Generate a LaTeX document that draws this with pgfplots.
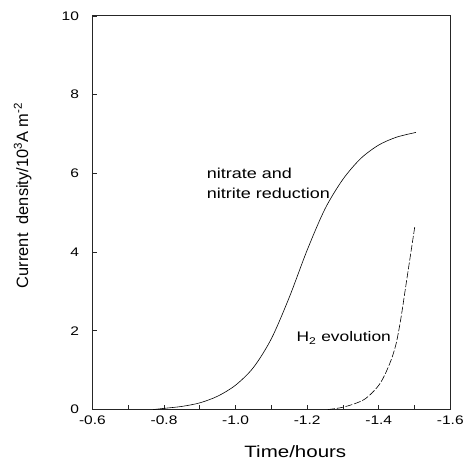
\documentclass[border=0pt]{standalone}
\usepackage{pgfplots}
\pgfplotsset{compat=1.18}
\usepackage{fontspec}
\setmainfont{Liberation Sans}
\newfontfamily\wide[FakeStretch=1.25]{Liberation Sans}
\begin{document}
\begin{tikzpicture}
\begin{axis}[name=ax,
  scale only axis, width=360pt, height=396pt,
  x dir=reverse, xmin=-1.6, xmax=-0.6, ymin=0, ymax=10,
  xtick={-1.6,-1.4,-1.2,-1.0,-0.8,-0.6},
  minor xtick={-1.5,-1.3,-1.1,-0.9,-0.7},
  ytick={0,2,4,6,8,10},
  tick pos=left, tick align=inside,
  major tick length=5pt, minor tick length=5pt,
  axis line style={line width=0.9pt, black!85},
  every tick/.style={black!85, line width=0.7pt},
  /pgf/number format/assume math mode=true,
  ticklabel style={font=\wide\fontsize{12.5}{13}\selectfont},
  xticklabel style={yshift=-3pt, /pgf/number format/.cd, fixed, fixed zerofill, precision=1},
  yticklabel style={xshift=-10pt},
  xlabel={\wide Time/hours},
  ylabel={Current\ \ density/10\textsuperscript{3}A m\textsuperscript{-2}},
  xlabel style={font=\fontsize{16.5}{18}\selectfont, at={(axis description cs:0.567,-0.108)}, anchor=center},
  ylabel style={font=\fontsize{16.5}{18}\selectfont, at={(axis description cs:-0.195,0.544)}, anchor=center},
  clip=false,
]
\addplot[black, line width=0.6pt, smooth, tension=0.5] coordinates {
(-0.77,0.0) (-0.80,0.03) (-0.85,0.08) (-0.90,0.17) (-0.95,0.34) (-1.00,0.62)
(-1.05,1.07) (-1.10,1.8) (-1.15,2.85) (-1.20,4.05) (-1.25,5.1) (-1.30,5.85)
(-1.35,6.38) (-1.40,6.72) (-1.45,6.92) (-1.504,7.04)
};
\addplot[black, line width=0.6pt, smooth, tension=0.5, dash pattern=on 7pt off 2pt] coordinates {
(-1.258,0.0) (-1.305,0.07) (-1.36,0.26) (-1.402,0.64) (-1.43,1.15)
(-1.448,1.65) (-1.462,2.32) (-1.476,3.16) (-1.49,4.0) (-1.501,4.66)
};
\node[anchor=west, inner sep=0pt, font=\wide\fontsize{14.5}{15}\selectfont] at (axis cs:-0.919,6.0) {nitrate and};
\node[anchor=west, inner sep=0pt, font=\wide\fontsize{14.5}{15}\selectfont] at (axis cs:-0.919,5.5) {nitrite reduction};
\node[anchor=west, inner sep=0pt, font=\wide\fontsize{14}{15}\selectfont] at (axis cs:-1.17,1.82) {H\textsubscript{2} evolution};
\end{axis}
\path[use as bounding box] ([xshift=-93pt,yshift=-52pt]ax.south west) rectangle ([xshift=14pt,yshift=16pt]ax.north east);
\end{tikzpicture}
\end{document}
